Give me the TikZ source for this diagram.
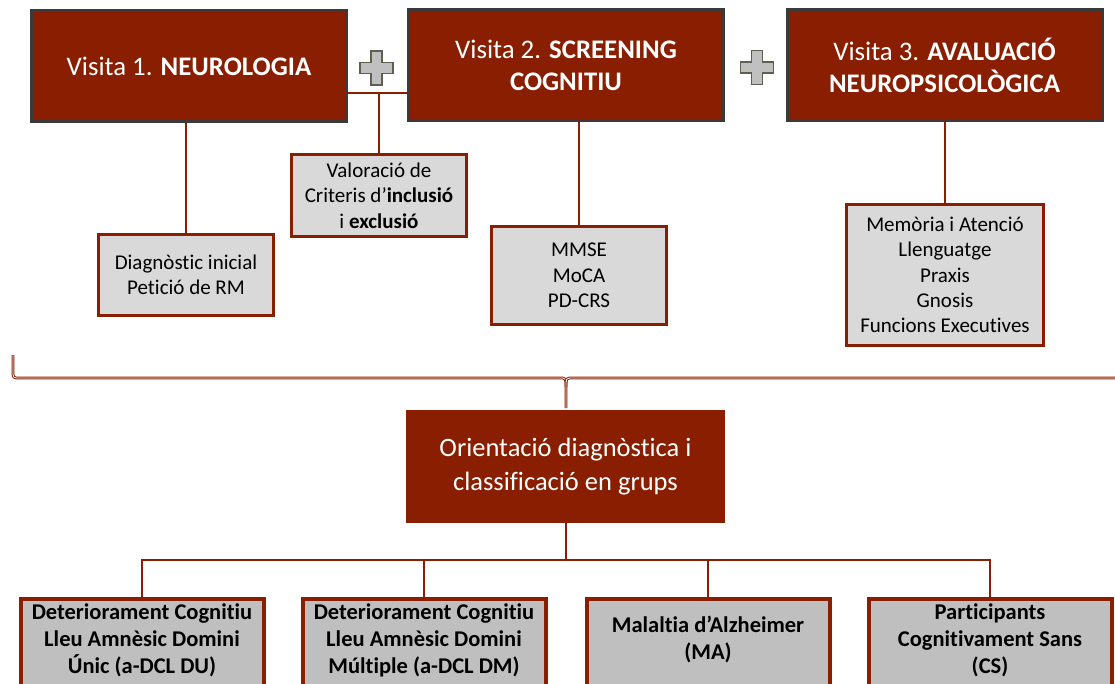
\documentclass[tikz,border=0pt]{standalone}
\usepackage{fontspec}
\setmainfont{Carlito}[Ligatures=NoCommon]
\definecolor{brick}{RGB}{137,30,0}
\definecolor{frame}{RGB}{58,58,58}
\definecolor{panel}{RGB}{217,217,217}
\definecolor{panelmid}{RGB}{191,191,191}
\definecolor{plusfill}{RGB}{192,192,192}
\definecolor{plusline}{RGB}{95,95,80}
\begin{document}
\begin{tikzpicture}[x=1pt,y=-1pt,
  visit/.style={draw=frame, line width=3pt, fill=brick, text=white, align=center,
    minimum width=315pt, minimum height=111pt, inner sep=0pt,
    font=\fontsize{26.8}{32}\selectfont},
  subbox/.style={draw=brick, line width=3pt, fill=panel, align=center, inner sep=0pt,
    font=\fontsize{21}{25.3}\selectfont},
  groupbox/.style={draw=brick, line width=4pt, fill=panelmid, anchor=north,
    minimum width=243pt, minimum height=110pt, inner sep=0pt},
  grouptext/.style={align=center, inner sep=0pt, font=\bfseries\fontsize{22.5}{27}\selectfont},
  conn/.style={draw=brick, line width=2pt},
  bracket/.style={draw=brick, line width=1pt, double=white, double distance=0.8pt},
  plussign/.pic={
    \draw[fill=plusfill, draw=plusline, line width=1.2pt]
      (-5.5,-17) -- (5.5,-17) -- (5.5,-5.5) -- (16.5,-5.5) -- (16.5,5.5) -- (5.5,5.5)
      -- (5.5,17) -- (-5.5,17) -- (-5.5,5.5) -- (-16.5,5.5) -- (-16.5,-5.5) -- (-5.5,-5.5) -- cycle;
  }]
\useasboundingbox (0,0) rectangle (1115,684);
\clip (0,0) rectangle (1115,684);

% the three visits
\node[visit] (v1) at (189,66) {Visita 1. \textbf{NEUROLOGIA}};
\node[visit] (v2) at (566,65.5) {Visita 2. \textbf{SCREENING}\\\textbf{COGNITIU}};
\node[visit] (v3) at (944.5,65.5) {Visita 3. \textbf{AVALUACIÓ}\\\textbf{NEUROPSICOLÒGICA}};

\pic at (376.5,68) {plussign};
\pic at (757,67.5) {plussign};

% what each visit covers
\node[subbox, minimum width=175pt, minimum height=82pt] (val) at (379,195.5)
  {Valoració de\\Criteris d’\textbf{inclusió}\\i \textbf{exclusió}};
\node[subbox, minimum width=175pt, minimum height=81pt] (diag) at (186,275)
  {Diagnòstic inicial\\Petició de RM};
\node[subbox, minimum width=175pt, minimum height=98pt] (mmse) at (579,275.5)
  {MMSE\\MoCA\\PD-CRS};
\node[subbox, minimum width=197pt, minimum height=141pt] (mem) at (945,275)
  {Memòria i Atenció\\Llenguatge\\Praxis\\Gnosis\\Funcions Executives};

\coordinate (j) at (379,93);
\draw[conn] (v1.east |- j) -- (v2.west |- j);
\draw[conn] (j) -- (val.north);
\draw[conn] (diag.north |- v1.south) -- (diag.north);
\draw[conn] (mmse.north |- v2.south) -- (mmse.north);
\draw[conn] (mem.north |- v3.south) -- (mem.north);

% brace gathering the visits
\draw[bracket] (13,355) -- (13,371) .. controls (13,378) .. (20,378) -- (559,378)
  .. controls (566,378) .. (566,387) -- (566,408);
\draw[bracket] (1125,378) -- (573,378) .. controls (566,378) .. (566,387);

% outcome
\node[draw=brick, line width=1pt, fill=brick, text=white, align=center,
  minimum width=318pt, minimum height=112pt, inner sep=0pt,
  font=\fontsize{26.5}{34}\selectfont] (orient) at (565.5,466.5)
  {Orientació diagnòstica i\\classificació en grups};

% groups
\node[groupbox] (g1) at (142,597) {};
\node[groupbox] (g2) at (424,597) {};
\node[groupbox] (g3) at (708,597) {};
\node[groupbox] (g4) at (990,597) {};
\node[grouptext] (t1) at (142,640) {Deteriorament Cognitiu\\Lleu Amnèsic Domini\\Únic (a-DCL DU)};
\node[grouptext] (t2) at (424,640) {Deteriorament Cognitiu\\Lleu Amnèsic Domini\\Múltiple (a-DCL DM)};
\node[grouptext] (t3) at (708,640) {Malaltia d’Alzheimer\\(MA)};
\node[grouptext] (t4) at (990,640) {Participants\\Cognitivament Sans\\(CS)};

\coordinate (bus) at (566,560);
\draw[conn] (orient.south) -- (orient.south |- bus);
\draw[conn] (g1.north) -- (g1.north |- bus) -- (g4.north |- bus) -- (g4.north);
\draw[conn] (g2.north) -- (g2.north |- bus);
\draw[conn] (g3.north) -- (g3.north |- bus);
\end{tikzpicture}
\end{document}
